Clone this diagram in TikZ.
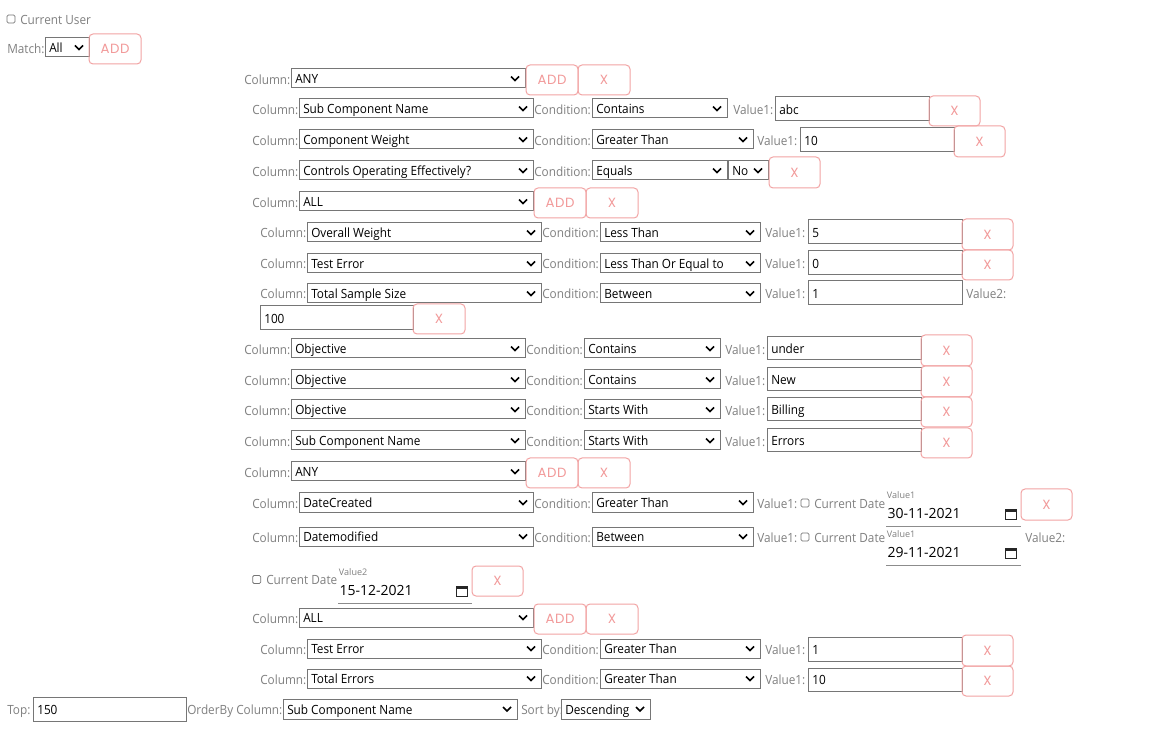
\documentclass[tikz,border=0pt]{standalone}
\usepackage{fontspec}
\usetikzlibrary{calc}
\newfontfamily\uiff[FakeStretch=0.93]{Open Sans}
\newfontfamily\dateff{Open Sans}
\newfontfamily\btnff[LetterSpace=4]{Poppins}
\newcommand\uifont{\uiff\fontsize{9.5}{11}\selectfont}
\newcommand\datefont{\dateff\fontsize{10.5}{12}\selectfont}
\newcommand\smallfont{\dateff\fontsize{6.8}{8}\selectfont}
\newcommand\btnfont{\btnff\fontsize{10}{12}\selectfont}
\definecolor{boxgray}{HTML}{767676}
\definecolor{lblgray}{HTML}{808080}
\definecolor{btnborder}{HTML}{F2A4A4}
\definecolor{btntext}{HTML}{F29A9A}
\definecolor{linegray}{HTML}{8C8C8C}
\tikzset{
  selbox/.style={draw=boxgray, line width=0.75pt, inner sep=0pt, outer sep=0pt, rectangle},
  btnbox/.style={draw=btnborder, line width=0.75pt, rounded corners=3pt, inner sep=0pt, outer sep=0pt, text=btntext, font=\btnfont},
  lbltxt/.style={inner sep=0pt, text=lblgray, font=\uifont},
  valtxt/.style={inner sep=0pt, text=black, font=\uifont},
  chev/.style={line width=1.2pt, black},
  chkbox/.style={draw=boxgray, line width=0.6pt, rounded corners=1pt, minimum size=6pt, inner sep=0pt, fill=white},
  dateline/.style={draw=linegray, line width=0.75pt},
  datetxt/.style={inner sep=0pt, text=black, font=\datefont},
  smalltxt/.style={inner sep=0pt, text=lblgray, font=\smallfont},
}
% select: name x1 y1 x2 y2 text
\newcommand\UISel[6]{%
  \pgfmathsetmacro\uiw{(#4-#2)*0.75}\pgfmathsetmacro\uih{(#5-#3)*0.75}%
  \node[selbox, minimum width=\uiw pt, minimum height=\uih pt] (#1) at ({(#2+#4)/2},{(#3+#5)/2}) {};
  \node[valtxt, anchor=base west] (#1-t) at ($(#1.west)+(4,5.3)$) {#6};
  \draw[chev] ($(#1.east)+(-14,-2)$) -- ($(#1.east)+(-10,2)$) -- ($(#1.east)+(-6,-2)$);
}
% input: name x1 y1 x2 y2 text
\newcommand\UIInp[6]{%
  \pgfmathsetmacro\uiw{(#4-#2)*0.75}\pgfmathsetmacro\uih{(#5-#3)*0.75}%
  \node[selbox, minimum width=\uiw pt, minimum height=\uih pt] (#1) at ({(#2+#4)/2},{(#3+#5)/2}) {};
  \node[valtxt, anchor=base west] (#1-t) at ($(#1.west)+(4,5.3)$) {#6};
}
% button: name x1 y1 x2 y2 text
\newcommand\UIBtn[6]{%
  \pgfmathsetmacro\uiw{(#4-#2)*0.75}\pgfmathsetmacro\uih{(#5-#3)*0.75}%
  \node[btnbox, minimum width=\uiw pt, minimum height=\uih pt] (#1) at ({(#2+#4)/2},{(#3+#5)/2}) {#6};
}
% label: name x cy text
\newcommand\UILbl[4]{%
  \node[lbltxt, anchor=base west] (#1) at (#2,{#3+5.3}) {#4};
}
% checkbox: name cx cy
\newcommand\UIChk[3]{%
  \node[chkbox] (#1) at (#2,#3) {};
}
% date: name x1 x2 yline small date
\newcommand\UIDate[6]{%
  \coordinate (#1-a) at (#2,#4);
  \coordinate (#1-b) at (#3,#4);
  \draw[dateline] (#1-a) -- (#1-b);
  \node[smalltxt, anchor=west] (#1-s) at ($(#1-a)+(0.7,-31)$) {#5};
  \node[datetxt, anchor=base west] (#1-t) at ($(#1-a)+(1.3,-7.2)$) {#6};
  \draw[black!85, line width=0.9pt] ($(#1-b)+(-15.7,-16.5)$) rectangle ($(#1-b)+(-4.7,-6.3)$);
  \fill[black!85] ($(#1-b)+(-15.7,-16.5)$) rectangle ($(#1-b)+(-4.7,-13.6)$);
}
\begin{document}
\begin{tikzpicture}[x=0.75pt,y=-0.75pt]
\useasboundingbox (0,0) rectangle (1149,737);
\fill[white] (0,0) rectangle (1149,737);
% row 0
\UIChk{chkuser}{11}{19}
\UILbl{lcu}{20}{19}{Current User}
% row 1
\UILbl{lmatch}{7}{48.5}{Match:}
\UISel{smatch}{45}{38}{89}{57}{All}
\UIBtn{bmadd}{89}{34}{141}{64}{ADD}
% row 2
\UILbl{l2}{244}{79}{Column:}
\UISel{s2}{291}{69}{525}{88}{ANY}
\UIBtn{b2a}{526}{65}{578}{95}{ADD}
\UIBtn{b2x}{578}{65}{630}{95}{X}
% row 3
\UILbl{l3}{252}{109}{Column:}
\UISel{s3}{299}{99}{533}{118}{Sub Component Name}
\UILbl{c3}{534}{109}{Condition:}
\UISel{s3c}{592}{99}{727}{118}{Contains}
\UILbl{v3}{733}{109}{Value1:}
\UIInp{i3}{775}{97}{929}{121}{abc}
\UIBtn{b3x}{929}{96}{980}{126}{X}
% row 4
\UILbl{l4}{252}{140}{Column:}
\UISel{s4}{299}{130}{533}{149}{Component Weight}
\UILbl{c4}{534}{140}{Condition:}
\UISel{s4c}{592}{130}{753}{149}{Greater Than}
\UILbl{v4}{757}{140}{Value1:}
\UIInp{i4}{800}{128}{954}{152}{10}
\UIBtn{b4x}{954}{126}{1005}{157}{X}
% row 5
\UILbl{l5}{252}{171}{Column:}
\UISel{s5}{299}{161}{533}{180}{Controls Operating Effectively?}
\UILbl{c5}{534}{171}{Condition:}
\UISel{s5c}{592}{161}{727}{180}{Equals}
\UISel{s5n}{728}{161}{768}{180}{No}
\UIBtn{b5x}{769}{157}{820}{188}{X}
% row 6
\UILbl{l6}{252}{202}{Column:}
\UISel{s6}{299}{192}{533}{211}{ALL}
\UIBtn{b6a}{534}{188}{586}{218}{ADD}
\UIBtn{b6x}{586}{188}{638}{218}{X}
% row 7
\UILbl{l7}{260}{232}{Column:}
\UISel{s7}{307}{223}{541}{242}{Overall Weight}
\UILbl{c7}{542}{232}{Condition:}
\UISel{s7c}{600}{223}{760}{242}{Less Than}
\UILbl{v7}{765}{232}{Value1:}
\UIInp{i7}{808}{220}{962}{244}{5}
\UIBtn{b7x}{962}{219}{1013}{250}{X}
% row 8
\UILbl{l8}{260}{263}{Column:}
\UISel{s8}{307}{254}{541}{273}{Test Error}
\UILbl{c8}{542}{263}{Condition:}
\UISel{s8c}{600}{254}{760}{273}{Less Than Or Equal to}
\UILbl{v8}{765}{263}{Value1:}
\UIInp{i8}{808}{251}{962}{275}{0}
\UIBtn{b8x}{962}{250}{1013}{280}{X}
% row 9
\UILbl{l9}{260}{293}{Column:}
\UISel{s9}{307}{284}{541}{303}{Total Sample Size}
\UILbl{c9}{542}{293}{Condition:}
\UISel{s9c}{600}{284}{760}{303}{Between}
\UILbl{v9}{765}{293}{Value1:}
\UIInp{i9}{808}{281}{962}{305}{1}
\UILbl{v9b}{966}{293}{Value2:}
\UIInp{i9b}{260}{306}{413}{330}{100}
\UIBtn{b9x}{413}{304}{465}{334}{X}
% row 10
\UILbl{l10}{244}{349}{Column:}
\UISel{s10}{291}{339}{525}{358}{Objective}
\UILbl{c10}{526}{349}{Condition:}
\UISel{s10c}{584}{339}{720}{358}{Contains}
\UILbl{v10}{725}{349}{Value1:}
\UIInp{i10}{767}{337}{921}{360}{under}
\UIBtn{b10x}{921}{335}{972}{366}{X}
% row 11
\UILbl{l11}{244}{380}{Column:}
\UISel{s11}{291}{370}{525}{389}{Objective}
\UILbl{c11}{526}{380}{Condition:}
\UISel{s11c}{584}{370}{720}{389}{Contains}
\UILbl{v11}{725}{380}{Value1:}
\UIInp{i11}{767}{368}{921}{391}{New}
\UIBtn{b11x}{921}{366}{972}{397}{X}
% row 12
\UILbl{l12}{244}{410}{Column:}
\UISel{s12}{291}{400}{525}{419}{Objective}
\UILbl{c12}{526}{410}{Condition:}
\UISel{s12c}{584}{400}{720}{419}{Starts With}
\UILbl{v12}{725}{410}{Value1:}
\UIInp{i12}{767}{398}{921}{421}{Billing}
\UIBtn{b12x}{921}{397}{972}{427}{X}
% row 13
\UILbl{l13}{244}{441}{Column:}
\UISel{s13}{291}{431}{525}{450}{Sub Component Name}
\UILbl{c13}{526}{441}{Condition:}
\UISel{s13c}{584}{431}{720}{450}{Starts With}
\UILbl{v13}{725}{441}{Value1:}
\UIInp{i13}{767}{429}{921}{452}{Errors}
\UIBtn{b13x}{921}{428}{972}{458}{X}
% row 14
\UILbl{l14}{244}{472}{Column:}
\UISel{s14}{291}{462}{525}{481}{ANY}
\UIBtn{b14a}{526}{458}{578}{488}{ADD}
\UIBtn{b14x}{578}{458}{630}{488}{X}
% row 15
\UILbl{l15}{252}{503}{Column:}
\UISel{s15}{299}{493}{533}{512}{DateCreated}
\UILbl{c15}{534}{503}{Condition:}
\UISel{s15c}{592}{493}{753}{512}{Greater Than}
\UILbl{v15}{757}{503}{Value1:}
\UIChk{k15}{805}{503}
\UILbl{cd15}{814}{503}{Current Date}
\UIDate{d15}{886}{1021}{526}{Value1}{30-11-2021}
\UIBtn{b15x}{1021}{489}{1072}{520}{X}
% row 16
\UILbl{l16}{252}{537}{Column:}
\UISel{s16}{299}{527}{533}{546}{Datemodified}
\UILbl{c16}{534}{537}{Condition:}
\UISel{s16c}{592}{527}{753}{546}{Between}
\UILbl{v16}{757}{537}{Value1:}
\UIChk{k16}{805}{537}
\UILbl{cd16}{814}{537}{Current Date}
\UIDate{d16}{886}{1021}{565}{Value1}{29-11-2021}
\UILbl{v16b}{1025}{537}{Value2:}
% row 17
\UIChk{k17}{256.7}{579.5}
\UILbl{cd17}{266}{579}{Current Date}
\UIDate{d17}{338}{472}{603}{Value2}{15-12-2021}
\UIBtn{b17x}{472}{566}{523}{596}{X}
% row 18
\UILbl{l18}{252}{618}{Column:}
\UISel{s18}{299}{608}{533}{627}{ALL}
\UIBtn{b18a}{534}{604}{586}{634}{ADD}
\UIBtn{b18x}{586}{604}{638}{634}{X}
% row 19
\UILbl{l19}{260}{649}{Column:}
\UISel{s19}{307}{639}{541}{658}{Test Error}
\UILbl{c19}{542}{649}{Condition:}
\UISel{s19c}{600}{639}{760}{658}{Greater Than}
\UILbl{v19}{765}{649}{Value1:}
\UIInp{i19}{808}{637}{962}{661}{1}
\UIBtn{b19x}{962}{635}{1013}{666}{X}
% row 20
\UILbl{l20}{260}{679}{Column:}
\UISel{s20}{307}{669}{541}{688}{Total Errors}
\UILbl{c20}{542}{679}{Condition:}
\UISel{s20c}{600}{669}{760}{688}{Greater Than}
\UILbl{v20}{765}{679}{Value1:}
\UIInp{i20}{808}{668}{962}{691}{10}
\UIBtn{b20x}{962}{666}{1013}{696}{X}
% row 21
\UILbl{ltop}{7}{709}{Top:}
\UIInp{itop}{33}{697}{186}{721}{150}
\UILbl{lob}{187}{709}{OrderBy Column:}
\UISel{sob}{283}{699}{517}{719}{Sub Component Name}
\UILbl{lsb}{521}{709}{Sort by:}
\UISel{ssb}{561}{699}{650}{719}{Descending}
\end{tikzpicture}
\end{document}
